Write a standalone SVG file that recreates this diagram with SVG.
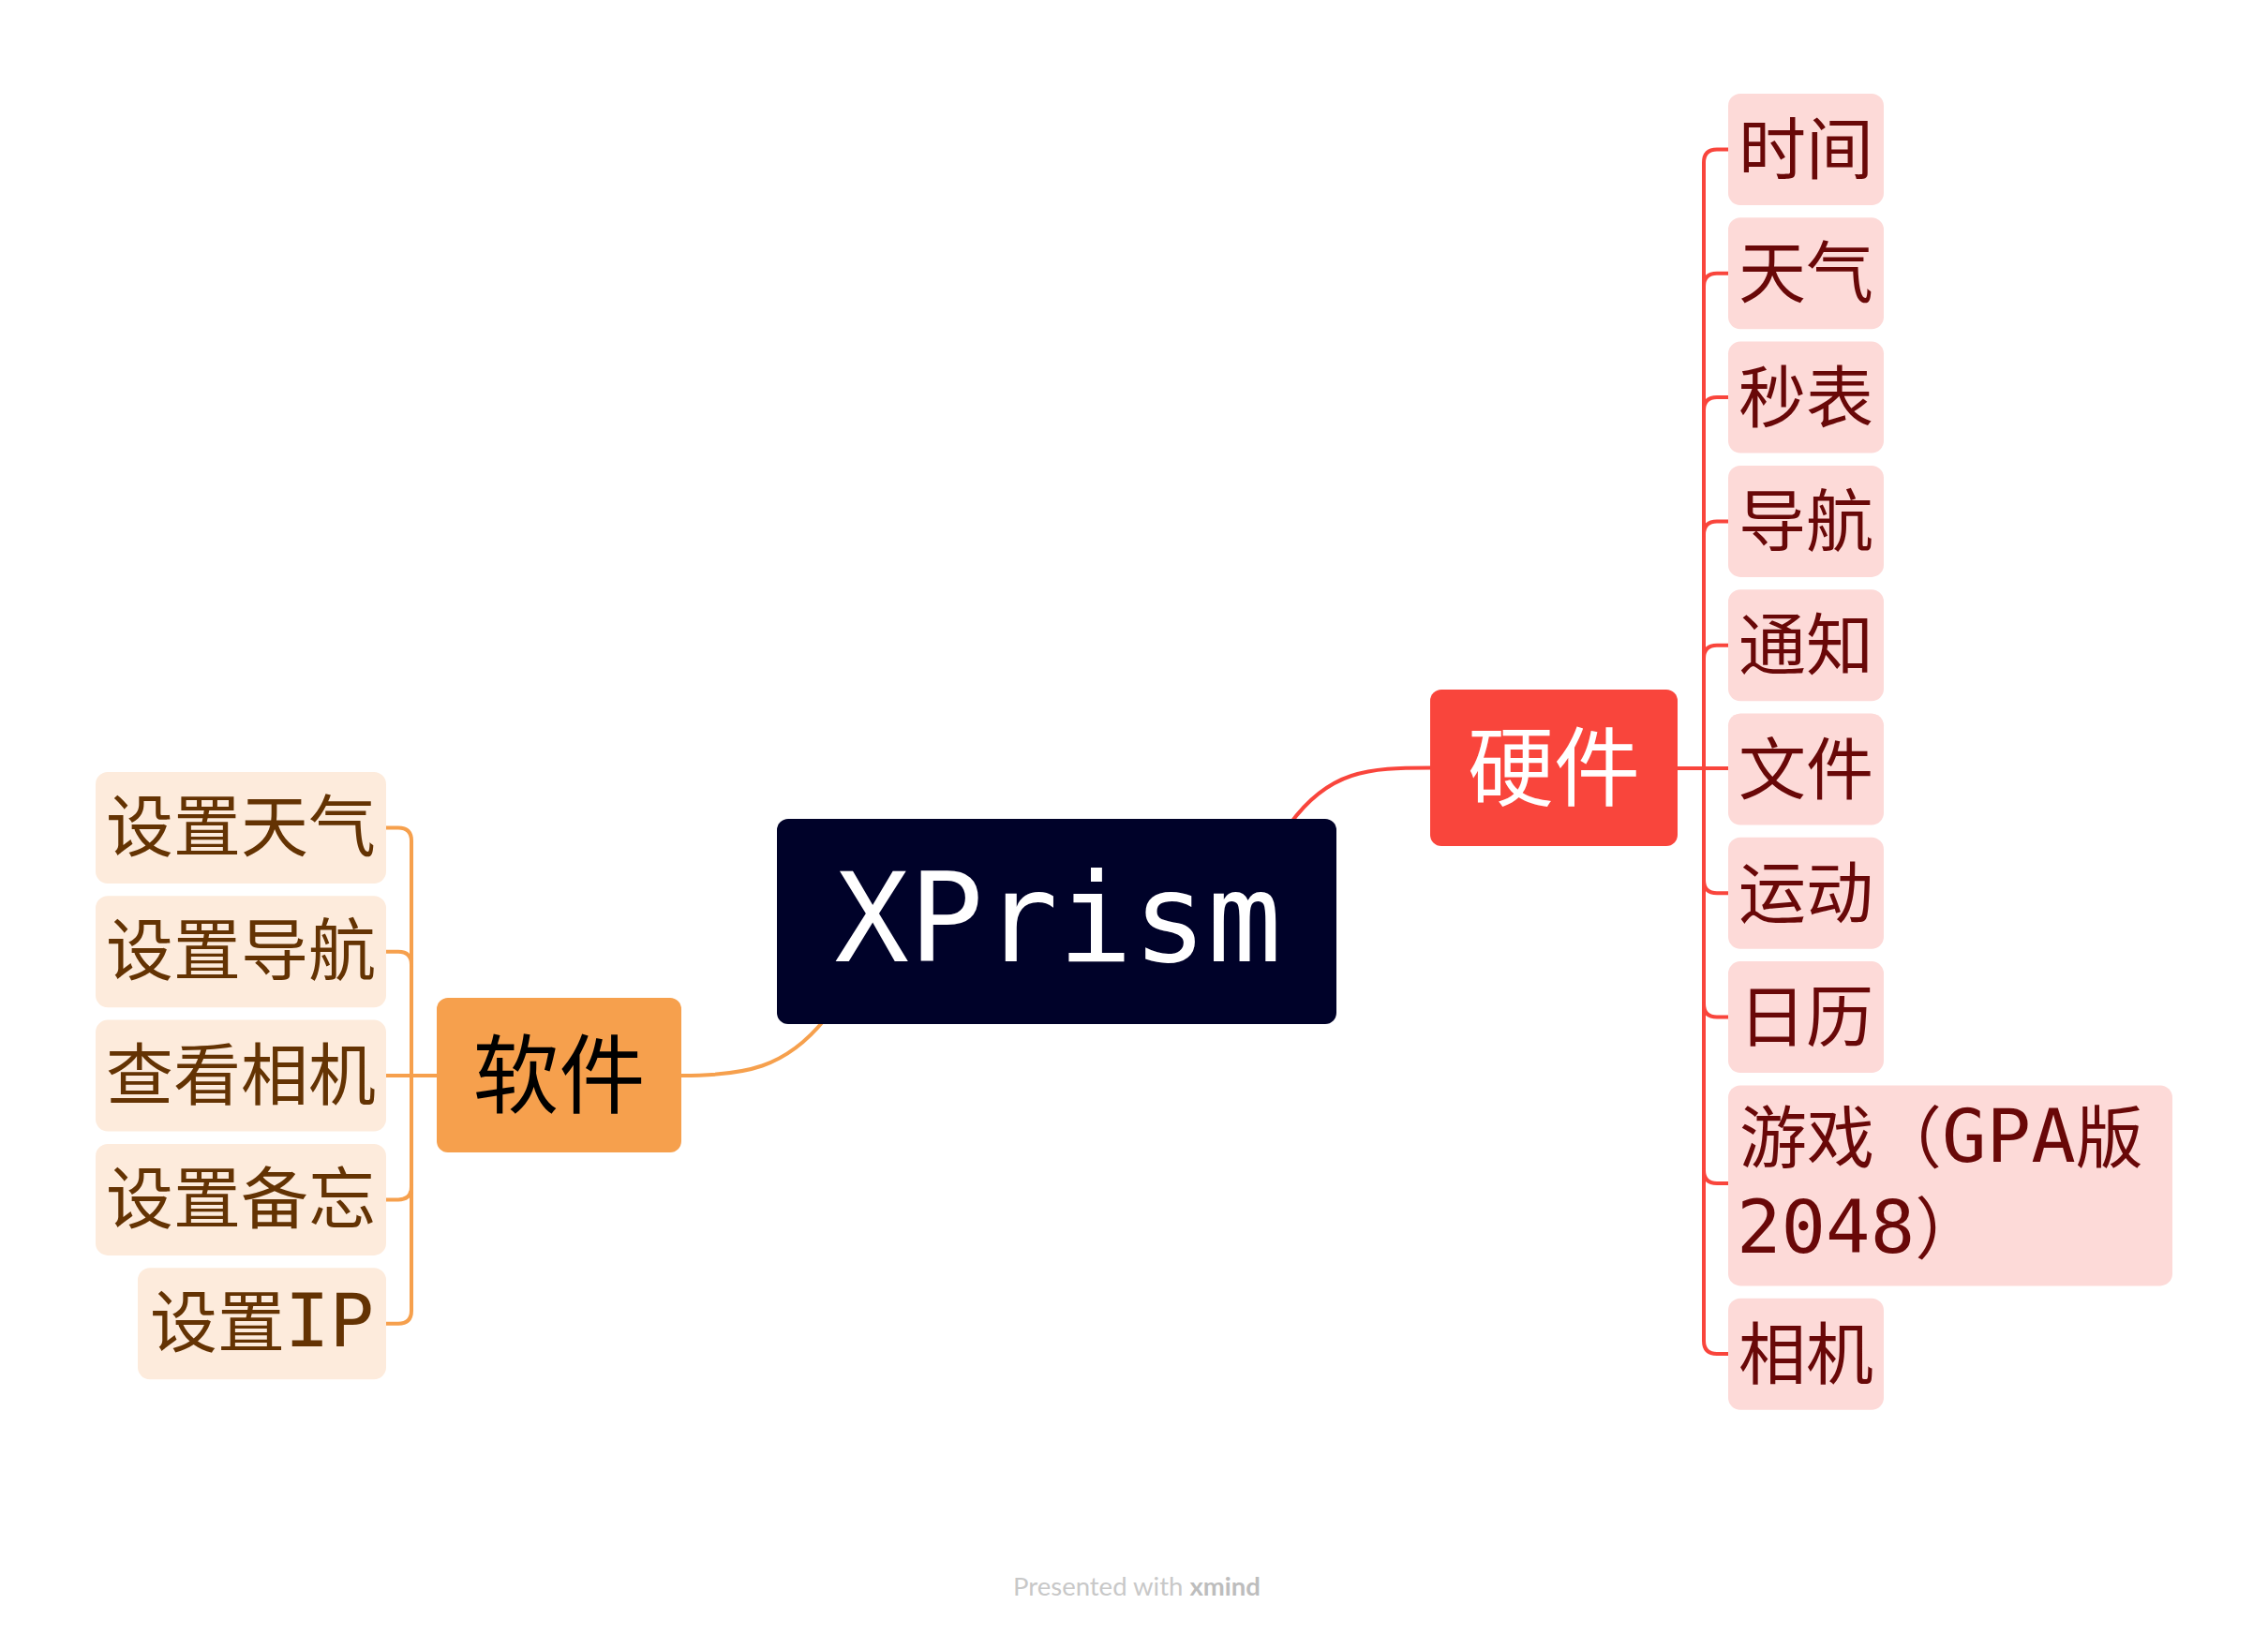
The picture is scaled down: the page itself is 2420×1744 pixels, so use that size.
<svg xmlns="http://www.w3.org/2000/svg" width="2420" height="1744" viewBox="0 0 2420 1744">
<style>
.cr{fill:none;stroke:#F9453C;stroke-width:4;stroke-linecap:round}
.co{fill:none;stroke:#F6A04D;stroke-width:4;stroke-linecap:round}
.rb{fill:#FDDAD8}
.lb{fill:#FDEBDC}
.rt{font-family:"DejaVu Sans Mono","Noto Sans CJK SC",monospace;font-size:72px;fill:#690808}
.lt{font-family:"DejaVu Sans Mono","Noto Sans CJK SC",monospace;font-size:72px;fill:#643303}
.lat{font-family:"DejaVu Sans Mono",monospace;font-size:79px}
.main{font-family:"DejaVu Sans Mono","Noto Sans CJK SC",monospace;font-size:92px}
</style>
<rect width="2420" height="1744" fill="#FFFFFF"/>
<g id="connectors">
<path class="cr" d="M1376,880 C1418,822 1460,819.5 1526,819.5"/>
<path class="co" d="M727,1148 C795,1148 838,1140 880,1088"/>
<path class="cr" d="M1790,820 H1844"/>
<path class="cr" d="M1844,159.5 H1832 Q1818,159.5 1818,173.5 V1431 Q1818,1445 1832,1445 H1844"/>
<path class="cr" d="M1844,291.8 H1832 Q1818,291.8 1818,305.8"/>
<path class="cr" d="M1844,424.1 H1832 Q1818,424.1 1818,438.1"/>
<path class="cr" d="M1844,556.4 H1832 Q1818,556.4 1818,570.4"/>
<path class="cr" d="M1844,688.7 H1832 Q1818,688.7 1818,702.7"/>
<path class="cr" d="M1844,953.3 H1832 Q1818,953.3 1818,939.3"/>
<path class="cr" d="M1844,1085.6 H1832 Q1818,1085.6 1818,1071.6"/>
<path class="cr" d="M1844,1263 H1832 Q1818,1263 1818,1249"/>
<path class="co" d="M412,1148 H466"/>
<path class="co" d="M412,883.5 H425 Q439,883.5 439,897.5 V1398.7 Q439,1412.7 425,1412.7 H412"/>
<path class="co" d="M412,1015.8 H425 Q439,1015.8 439,1029.8"/>
<path class="co" d="M412,1280.4 H425 Q439,1280.4 439,1266.4"/>
</g>
<g id="node-xprism">
<rect x="829" y="874" width="597" height="219" rx="12" fill="#000229"/>
<text x="1129" y="1026" text-anchor="middle" font-family="DejaVu Sans Mono,monospace" font-size="132" fill="#FFFFFF">XPrism</text>
</g>
<g id="node-hardware">
<rect x="1526" y="736" width="264" height="167" rx="12" fill="#F9453C"/>
<text class="main" x="1658" y="853" text-anchor="middle" fill="#FFFFFF">硬件</text>
</g>
<g id="node-software">
<rect x="466" y="1065" width="261" height="165" rx="12" fill="#F6A04D"/>
<text class="main" x="596.5" y="1181" text-anchor="middle" fill="#000000">软件</text>
</g>
<g id="node-time"><rect class="rb" x="1844" y="100" width="166" height="119" rx="13"/><text class="rt" x="1927" y="185" text-anchor="middle">时间</text></g>
<g id="node-weather"><rect class="rb" x="1844" y="232.3" width="166" height="119" rx="13"/><text class="rt" x="1927" y="317.3" text-anchor="middle">天气</text></g>
<g id="node-stopwatch"><rect class="rb" x="1844" y="364.6" width="166" height="119" rx="13"/><text class="rt" x="1927" y="449.6" text-anchor="middle">秒表</text></g>
<g id="node-nav"><rect class="rb" x="1844" y="496.9" width="166" height="119" rx="13"/><text class="rt" x="1927" y="581.9" text-anchor="middle">导航</text></g>
<g id="node-notify"><rect class="rb" x="1844" y="629.2" width="166" height="119" rx="13"/><text class="rt" x="1927" y="714.2" text-anchor="middle">通知</text></g>
<g id="node-file"><rect class="rb" x="1844" y="761.5" width="166" height="119" rx="13"/><text class="rt" x="1927" y="846.5" text-anchor="middle">文件</text></g>
<g id="node-sport"><rect class="rb" x="1844" y="893.8" width="166" height="119" rx="13"/><text class="rt" x="1927" y="978.8" text-anchor="middle">运动</text></g>
<g id="node-calendar"><rect class="rb" x="1844" y="1026.1" width="166" height="119" rx="13"/><text class="rt" x="1927" y="1111.1" text-anchor="middle">日历</text></g>
<g id="node-game"><rect class="rb" x="1844" y="1158.4" width="474" height="214" rx="13"/>
<text class="rt" x="1856" y="1240">游戏（<tspan class="lat">GPA</tspan>版</text>
<text class="rt" x="1853" y="1337"><tspan class="lat">2048</tspan>）</text></g>
<g id="node-camera"><rect class="rb" x="1844" y="1385.7" width="166" height="119" rx="13"/><text class="rt" x="1927" y="1470.7" text-anchor="middle">相机</text></g>
<g id="node-set-weather"><rect class="lb" x="102" y="824" width="310" height="119" rx="13"/><text class="lt" x="257" y="908" text-anchor="middle">设置天气</text></g>
<g id="node-set-nav"><rect class="lb" x="102" y="956.3" width="310" height="119" rx="13"/><text class="lt" x="257" y="1040.3" text-anchor="middle">设置导航</text></g>
<g id="node-view-camera"><rect class="lb" x="102" y="1088.6" width="310" height="119" rx="13"/><text class="lt" x="257" y="1172.6" text-anchor="middle">查看相机</text></g>
<g id="node-set-memo"><rect class="lb" x="102" y="1220.9" width="310" height="119" rx="13"/><text class="lt" x="257" y="1304.9" text-anchor="middle">设置备忘</text></g>
<g id="node-set-ip"><rect class="lb" x="147" y="1353.2" width="265" height="119" rx="13"/><text class="lt" x="279.5" y="1437.2" text-anchor="middle">设置<tspan class="lat">IP</tspan></text></g>
<text x="1213" y="1703" text-anchor="middle" font-family="Lato,sans-serif" font-size="27.5" fill="#C8C8C8">Presented with <tspan font-weight="bold" fill="#BDBDBD">xmind</tspan></text>
</svg>
